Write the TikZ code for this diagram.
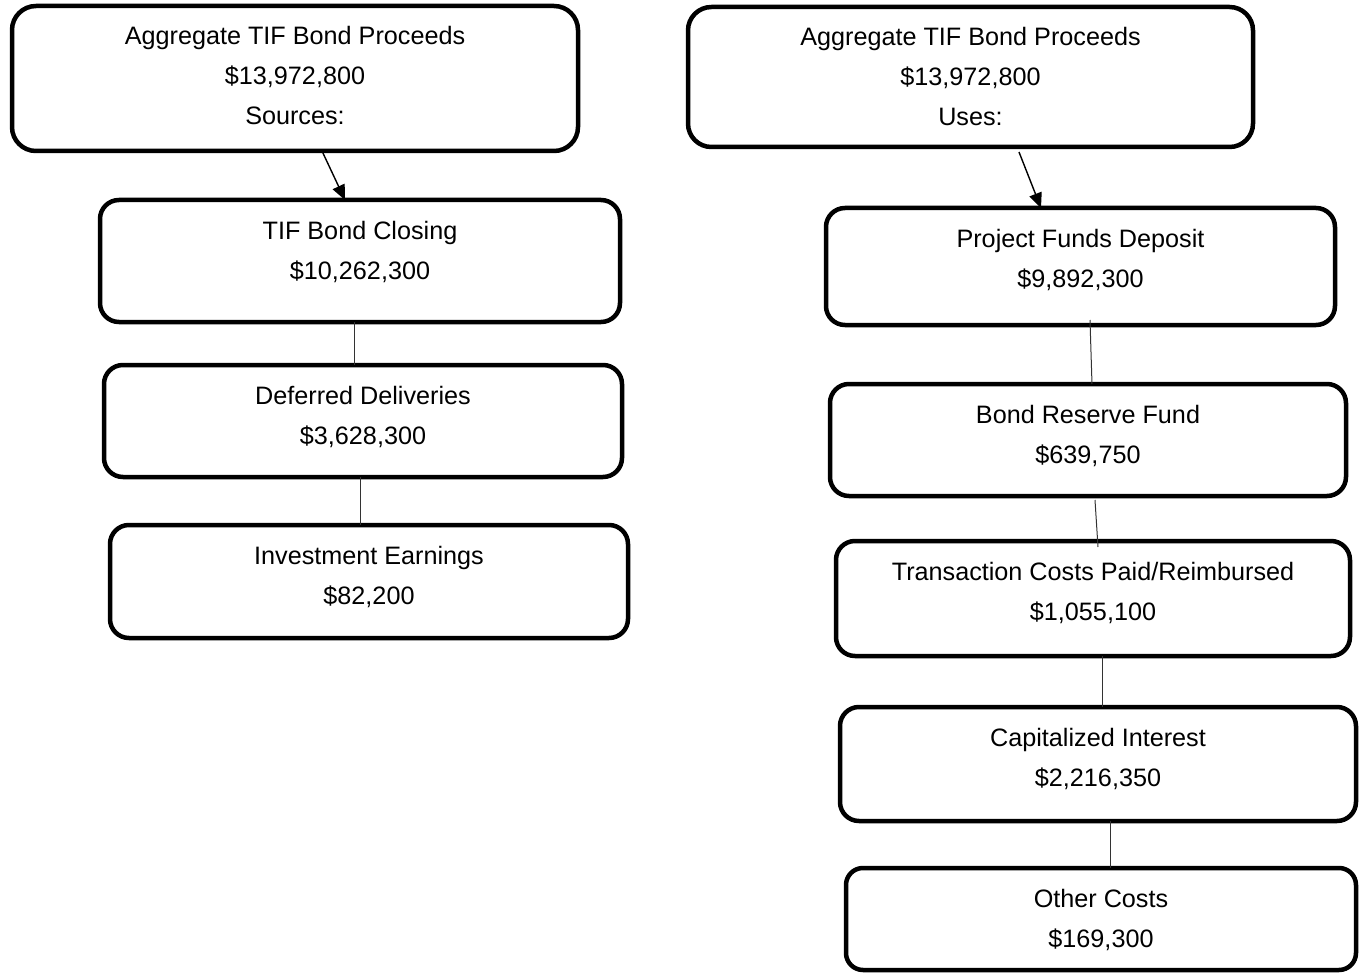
\documentclass[tikz,border=0pt]{standalone}
\usepackage{fontspec}
\setmainfont{Liberation Sans}
\usetikzlibrary{positioning, arrows.meta}

\tikzset{
	fund/.style={draw, line width=2.25pt, rounded corners=9.5pt, align=center,
		anchor=north, outer sep=0pt, inner xsep=0pt, inner ysep=4pt,
		font=\fontsize{12.6pt}{20pt}\selectfont, text height=35.5pt, text depth=#1},
	total/.style={text height=55.5pt},
	flow/.style={line width=0.7pt, -{Triangle[length=7.5pt, width=6.5pt]}},
	link/.style={line width=0.5pt, black!80}
}

\begin{document}
\begin{tikzpicture}[x=0.5pt, y=-0.5pt]
		\useasboundingbox (0,0) rectangle (1362,974);

		% sources
		\node[fund=9pt, total, minimum width=283pt, rounded corners=12pt]	(SrcTotal) at (295,6) {Aggregate TIF Bond Proceeds\\\$13,972,800\\Sources:};
		\node[fund=17.5pt, minimum width=260pt, below=24.5pt of SrcTotal, xshift=32.5pt]	(BondClosing) {TIF Bond Closing\\\$10,262,300};
		\node[fund=12.5pt, minimum width=259pt, below=21.5pt of BondClosing, xshift=1.5pt]	(Deferred) {Deferred Deliveries\\\$3,628,300};
		\node[fund=13pt, minimum width=259pt, below=24pt of Deferred, xshift=3pt]	(Earnings) {Investment Earnings\\\$82,200};

		% uses
		\node[fund=6.5pt, total, minimum width=282.5pt, rounded corners=11.7pt]	(UseTotal) at (970.5,7) {Aggregate TIF Bond Proceeds\\\$13,972,800\\Uses:};
		\node[fund=15pt, minimum width=254.5pt, below=30.5pt of UseTotal, xshift=55pt]	(ProjectFunds) {Project Funds Deposit\\\$9,892,300};
		\node[fund=12.5pt, minimum width=258pt, below=29.5pt of ProjectFunds, xshift=3.75pt]	(Reserve) {Bond Reserve Fund\\\$639,750};
		\node[fund=14pt, minimum width=257pt, below=22.5pt of Reserve, xshift=2.5pt]	(Transaction) {Transaction Costs Paid/Reimbursed\\\$1,055,100};
		\node[fund=13.5pt, minimum width=258pt, below=25.5pt of Transaction, xshift=2.5pt]	(CapInterest) {Capitalized Interest\\\$2,216,350};
		\node[fund=7.5pt, minimum width=255pt, rounded corners=8.5pt, below=23.5pt of CapInterest, xshift=1.5pt]	(OtherCosts) {Other Costs\\\$169,300};

		\draw[flow] ([xshift=13.5pt]SrcTotal.south) -- ([xshift=-7.5pt]BondClosing.north);
		\draw[link] ([xshift=-3pt]BondClosing.south) -- ([xshift=-4.5pt]Deferred.north);
		\draw[link] ([xshift=-1.5pt]Deferred.south) -- ([xshift=-4.5pt]Earnings.north);

		\draw[flow] ([xshift=24.25pt, yshift=-2.5pt]UseTotal.south) -- ([xshift=-19.75pt]ProjectFunds.north);
		\draw[link] ([xshift=4.75pt, yshift=2.5pt]ProjectFunds.south) -- ([xshift=2pt]Reserve.north);
		\draw[link] ([xshift=3.5pt, yshift=-2pt]Reserve.south) -- ([xshift=2.5pt, yshift=-3pt]Transaction.north);
		\draw[link] ([xshift=4.5pt]Transaction.south) -- ([xshift=2pt]CapInterest.north);
		\draw[link] ([xshift=6pt]CapInterest.south) -- ([xshift=4.5pt]OtherCosts.north);
	\end{tikzpicture}
\end{document}
